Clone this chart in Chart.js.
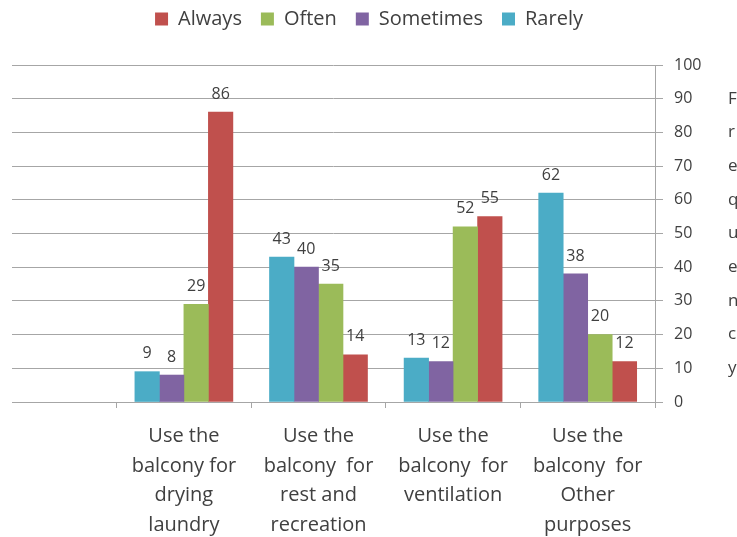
<!DOCTYPE html>
<html>
<head>
<meta charset="utf-8">
<script src="https://cdn.jsdelivr.net/npm/chart.js@4.4.0/dist/chart.umd.min.js"></script>
<style>
  html, body { margin: 0; padding: 0; background: #fff; }
  #wrap { width: 737px; height: 537px; }
</style>
</head>
<body>
<div id="wrap"><canvas id="freqChart" width="737" height="537"></canvas></div>
<script>
// category labels (one array of lines per group)
const categories = [
  ['Use the', 'balcony for', 'drying', 'laundry'],
  ['Use the', 'balcony  for', 'rest and', 'recreation'],
  ['Use the', 'balcony  for', 'ventilation'],
  ['Use the', 'balcony  for', 'Other', 'purposes']
];

// series, in the order the bars sit inside a group
const seriesNames = ['Rarely', 'Sometimes', 'Often', 'Always'];
const rarely    = [9, 43, 13, 62];
const sometimes = [8, 40, 12, 38];
const often     = [29, 35, 52, 20];
const always    = [86, 14, 55, 12];
const seriesValues = [rarely, sometimes, often, always];
const seriesColors = ['#4BACC6', '#8064A2', '#9BBB59', '#C0504D'];

const yMax = 100;
const yStep = 10;
const axisTitle = 'Frequency';
const titleLetters = axisTitle.split('');

const fontFamily = '"Open Sans", "Noto Sans", sans-serif';
const textColor = '#404040';
const gridColor = '#a6a6a6';

// group boundaries and group centres on the x axis
const tickValues = [];
for (let i = 0; i <= categories.length; i++) {
  tickValues.push(i);
  if (i < categories.length) tickValues.push(i + 0.5);
}

// gap under the legend, and nudge it a little to the left
const legendTweak = {
  id: 'legendTweak',
  beforeInit(chart) {
    const origFit = chart.legend.fit;
    chart.legend.fit = function () {
      origFit.call(this);
      this.height += 26;
    };
  },
  afterLayout(chart) {
    chart.legend.left -= 11;
  }
};

// numbers above the bars
const valueLabels = {
  id: 'valueLabels',
  afterDatasetsDraw(chart) {
    const ctx = chart.ctx;
    ctx.save();
    ctx.font = '16px ' + fontFamily;
    ctx.fillStyle = textColor;
    ctx.textAlign = 'center';
    ctx.textBaseline = 'middle';
    chart.data.datasets.forEach((ds, di) => {
      chart.getDatasetMeta(di).data.forEach((bar, i) => {
        ctx.fillText(String(ds.data[i].y), bar.x, bar.y - 18);
      });
    });
    ctx.restore();
  }
};

new Chart(document.getElementById('freqChart'), {
  type: 'bar',
  data: {
    datasets: seriesNames.map((name, s) => ({
      label: name,
      data: seriesValues[s].map((v, i) => ({ x: i + 0.5, y: v })),
      backgroundColor: seriesColors[s],
      borderWidth: 0,
      barThickness: 24.5
    }))
  },
  options: {
    responsive: false,
    animation: false,
    layout: { padding: { top: -10, left: 12, right: 0, bottom: 0 } },
    plugins: {
      legend: {
        position: 'top',
        reverse: true,
        labels: {
          boxWidth: 13,
          boxHeight: 13,
          padding: 19,
          color: textColor,
          font: { family: fontFamily, size: 20 }
        }
      },
      tooltip: { enabled: false }
    },
    scales: {
      x: {
        type: 'linear',
        min: -0.777,
        max: categories.length,
        offset: false,
        bounds: 'data',
        afterBuildTicks: (axis) => {
          axis.ticks = tickValues.map(v => ({ value: v }));
        },
        afterFit: (axis) => { axis.height = 135; },
        grid: {
          offset: false,
          drawOnChartArea: false,
          drawTicks: true,
          tickLength: 6,
          color: (c) => (c.tick && Number.isInteger(c.tick.value)) ? gridColor : 'rgba(0,0,0,0)'
        },
        border: { display: true, color: gridColor },
        ticks: {
          autoSkip: false,
          maxRotation: 0,
          padding: 14,
          color: textColor,
          font: { family: fontFamily, size: 20, lineHeight: 1.47 },
          callback: (value) => {
            const i = value - 0.5;
            return Number.isInteger(i) ? categories[i] : '';
          }
        }
      },
      y: {
        position: 'right',
        weight: 0,
        min: 0,
        max: yMax,
        afterFit: (axis) => { axis.width = 46; },
        ticks: {
          stepSize: yStep,
          padding: 11,
          color: textColor,
          font: { family: fontFamily, size: 16 }
        },
        grid: { color: gridColor, drawTicks: true, tickLength: 8 },
        border: { display: true, color: gridColor }
      },
      y2: {
        position: 'right',
        weight: 1,
        min: 0,
        max: yMax,
        afterFit: (axis) => { axis.width = 36; },
        grid: { display: false, drawTicks: false },
        border: { display: false },
        ticks: {
          stepSize: yStep,
          padding: 27,
          color: textColor,
          font: { family: fontFamily, size: 17 },
          callback: (v) => {
            const i = Math.round((yMax - yStep - v) / yStep);
            return (i >= 0 && i < titleLetters.length) ? titleLetters[i] : '';
          }
        }
      }
    }
  },
  plugins: [legendTweak, valueLabels]
});
</script>
</body>
</html>
